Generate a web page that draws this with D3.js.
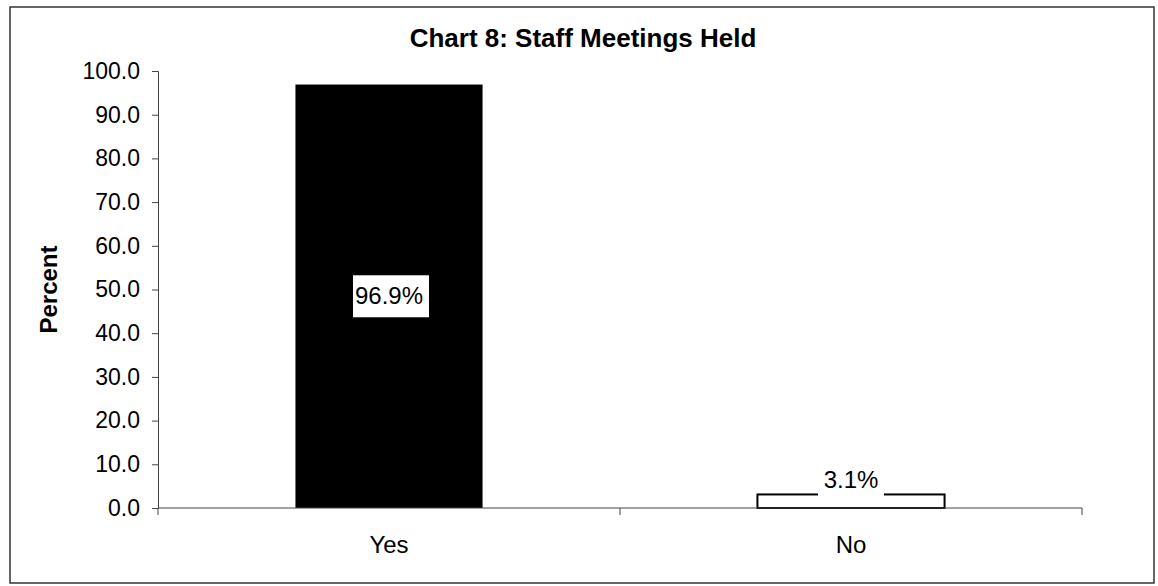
<!DOCTYPE html>
<html>
<head>
<meta charset="utf-8">
<script src="https://cdn.jsdelivr.net/npm/d3@7"></script>
<style>
  body { margin: 0; background: #fff; }
  svg text { font-family: "Liberation Sans", Arial, Helvetica, sans-serif; fill: #000; }
</style>
</head>
<body>
<div id="chart"></div>
<script>
// chart values
var categories = ["Yes", "No"];
var percents = [96.9, 3.1];
var valueLabels = ["96.9%", "3.1%"];
var yTicks = [0, 10, 20, 30, 40, 50, 60, 70, 80, 90, 100];
var title = "Chart 8: Staff Meetings Held";
var yTitle = "Percent";

var W = 1158, H = 586;
var plotLeft = 158, plotRight = 1082, plotTop = 71, plotBottom = 508;

var svg = d3.select("#chart").append("svg")
	.attr("width", W)
	.attr("height", H);

// outer frame
svg.append("rect")
	.attr("x", 10).attr("y", 7)
	.attr("width", 1144).attr("height", 576)
	.attr("fill", "none")
	.attr("stroke", "#333")
	.attr("stroke-width", 1.5);

var x = d3.scaleBand()
	.domain(categories)
	.range([plotLeft, plotRight])
	.paddingInner(0.595)
	.paddingOuter(0.2975);

var y = d3.scaleLinear()
	.domain([0, 100])
	.range([plotBottom, plotTop]);

// y axis
var yAxis = svg.append("g")
	.attr("transform", "translate(" + plotLeft + ",0)")
	.call(d3.axisLeft(y).tickValues(yTicks).tickFormat(d3.format(".1f")).tickSize(6).tickPadding(12));
yAxis.selectAll("text").attr("font-size", "23px").attr("font-family", null);
yAxis.select(".domain").attr("stroke", "#444");
yAxis.selectAll(".tick line").attr("stroke", "#444");

// bars
svg.selectAll(".bar")
	.data(percents)
	.enter()
	.append("rect")
	.attr("class", "bar")
	.attr("x", function(d, i) { return x(categories[i]); })
	.attr("y", function(d) { return y(d); })
	.attr("width", x.bandwidth())
	.attr("height", function(d) { return y(0) - y(d); })
	.attr("fill", function(d, i) { return i == 0 ? "#000" : "#fff"; })
	.attr("stroke", "#000")
	.attr("stroke-width", function(d, i) { return i == 0 ? 0 : 2; });

// x axis line with boundary ticks
svg.append("line")
	.attr("x1", plotLeft).attr("x2", plotRight)
	.attr("y1", y(0)).attr("y2", y(0))
	.attr("stroke", "#444");
for (var i = 0; i <= categories.length; i++) {
	var tx = plotLeft + i * x.step();
	svg.append("line")
		.attr("x1", tx).attr("x2", tx)
		.attr("y1", y(0)).attr("y2", y(0) + 7)
		.attr("stroke", "#444");
}

// category labels
svg.selectAll(".cat")
	.data(categories)
	.enter()
	.append("text")
	.attr("class", "cat")
	.attr("x", function(d) { return x(d) + x.bandwidth() / 2; })
	.attr("y", 553)
	.attr("text-anchor", "middle")
	.attr("font-size", "24px")
	.text(function(d) { return d; });

// value labels with white boxes
var lab = svg.selectAll(".lab")
	.data(percents)
	.enter()
	.append("g")
	.attr("class", "lab")
	.attr("transform", function(d, i) {
		var cx = x(categories[i]) + x.bandwidth() / 2;
		var cy = Math.min(y(d / 2), y(0) - 28);
		return "translate(" + cx + "," + cy + ")";
	});
lab.append("rect")
	.attr("x", function(d, i) { return i == 0 ? -36 : -33; })
	.attr("y", -21)
	.attr("width", function(d, i) { return i == 0 ? 76 : 66; })
	.attr("height", 42)
	.attr("fill", "#fff");
lab.append("text")
	.attr("text-anchor", "middle")
	.attr("y", 8)
	.attr("font-size", "24px")
	.text(function(d, i) { return valueLabels[i]; });

// titles
svg.append("text")
	.attr("x", 583)
	.attr("y", 47)
	.attr("text-anchor", "middle")
	.attr("font-size", "26px")
	.attr("font-weight", "bold")
	.text(title);

svg.append("text")
	.attr("transform", "translate(57," + ((plotTop + plotBottom) / 2) + ")rotate(-90)")
	.attr("text-anchor", "middle")
	.attr("font-size", "24px")
	.attr("font-weight", "bold")
	.text(yTitle);
</script>
</body>
</html>
